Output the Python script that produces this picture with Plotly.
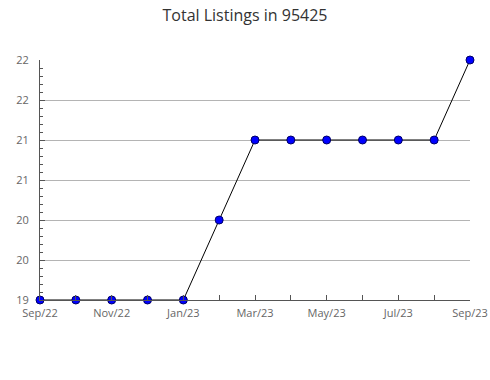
import plotly.graph_objects as go

months = ["Sep/22", "Oct/22", "Nov/22", "Dec/22", "Jan/23", "Feb/23", "Mar/23",
          "Apr/23", "May/23", "Jun/23", "Jul/23", "Aug/23", "Sep/23"]
listings = [19, 19, 19, 19, 19, 20, 21, 21, 21, 21, 21, 21, 22]
y_tickvals = [19, 19.5, 20, 20.5, 21, 21.5, 22]
y_ticktext = ["19", "20", "20", "21", "21", "22", "22"]

x_idx = list(range(len(months)))
x_ticktext = [m if i % 2 == 0 else "" for i, m in enumerate(months)]

fig = go.Figure()
fig.add_trace(go.Scatter(
    x=x_idx, y=listings, mode="lines+markers",
    line=dict(color="black", width=1),
    marker=dict(symbol="circle", size=8, color="#0000ff",
                line=dict(color="#000066", width=1)),
    cliponaxis=False, showlegend=False,
))

font_family = "Open Sans, Noto Sans, DejaVu Sans, sans-serif"
fig.update_layout(
    width=490, height=380,
    margin=dict(l=40, r=20, t=60, b=80, autoexpand=False),
    paper_bgcolor="white", plot_bgcolor="white",
    title=dict(text="Total Listings in 95425", x=0.5, xanchor="center",
               y=1 - 15 / 380, yanchor="middle",
               font=dict(family=font_family, size=16, color="#333333")),
    font=dict(family=font_family, size=11, color="#666666"),
)
fig.update_xaxes(
    range=[0, 12], tickmode="array", tickvals=x_idx, ticktext=x_ticktext,
    ticks="inside", ticklen=5, tickcolor="#555555",
    showline=True, linecolor="#555555", linewidth=1,
    showgrid=False, zeroline=False, automargin=False,
    ticklabelstandoff=3,
    tickfont=dict(size=11, color="#666666"),
)
fig.update_yaxes(
    range=[19, 22], tickmode="array", tickvals=y_tickvals, ticktext=y_ticktext,
    ticks="inside", ticklen=5, tickcolor="#555555",
    showline=True, linecolor="#555555", linewidth=1,
    showgrid=True, gridcolor="#b4b4b4", gridwidth=1, zeroline=False,
    automargin=False, ticklabelstandoff=8,
    minor=dict(dtick=0.1, tick0=19, ticks="inside", ticklen=3, tickcolor="#555555", showgrid=False),
    tickfont=dict(size=11, color="#666666"),
)

fig.write_html("out.html")
